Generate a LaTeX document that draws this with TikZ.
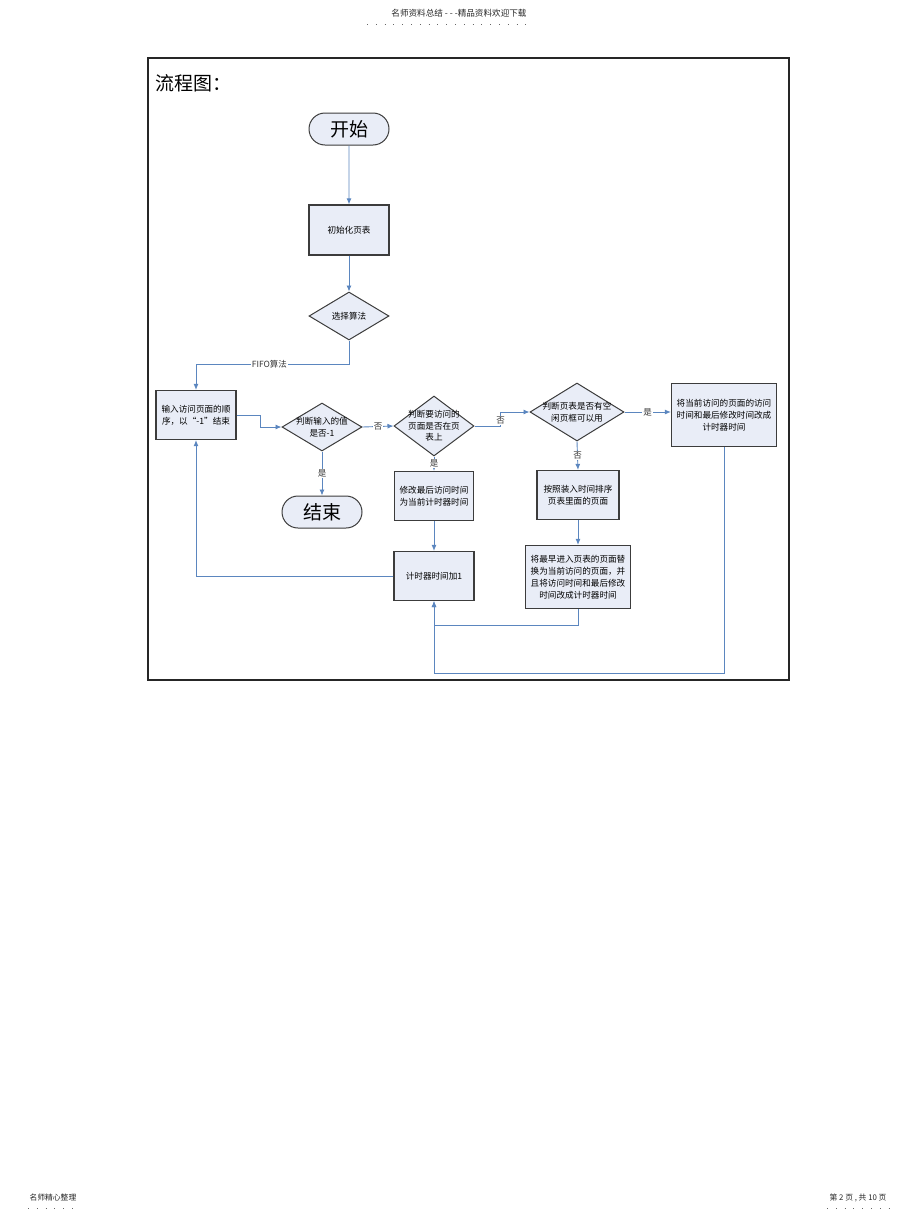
\documentclass[tikz,border=0pt]{standalone}
\usepackage{fontspec}
\setmainfont{Noto Sans CJK SC}
\usetikzlibrary{arrows.meta, calc, shapes.geometric, shapes.misc, positioning}
\definecolor{boxfill}{HTML}{E9EDF7}
\definecolor{boxline}{HTML}{3C3C3C}
\definecolor{flowc}{HTML}{5B86BF}
\tikzset{
	state/.style = {rounded rectangle, draw=boxline, fill=boxfill, line width=1pt, minimum width=80pt, minimum height=32pt, inner sep=0pt, font=\fontsize{19}{19}\selectfont},
	proc/.style = {rectangle, draw=boxline, fill=boxfill, line width=1.2pt, align=center, inner sep=0pt, font=\fontsize{8.6}{12}\selectfont},
	dec/.style = {diamond, draw=boxline, fill=boxfill, line width=1pt, inner sep=0pt},
	dectext/.style = {align=center, inner sep=0pt, font=\fontsize{8.6}{11.5}\selectfont},
	flow/.style = {draw=flowc, line width=0.9pt},
	arr/.style = {flow, -{Latex[length=6pt, width=5pt]}},
	el/.style = {fill=white, inner sep=1pt, font=\fontsize{8.5}{8.5}\selectfont, text=black!80},
	pg/.style = {font=\fontsize{7.8}{7.8}\selectfont, text=black!85},
	dots/.style = {dash pattern=on 0.8pt off 8pt, line width=0.8pt, black!60}
}
\begin{document}
\begin{tikzpicture}[x=1pt, y=-1pt]
	\useasboundingbox (0,0) rectangle (920,1221);
	
	% page header and footer
	\node[pg, font=\fontsize{8.6}{8.6}\selectfont] (hdr) at (459,13) {名师资料总结 - - -精品资料欢迎下载};
	\draw[dots] (367,24) -- (527,24);
	\node[pg, anchor=west] (ftl) at (26,1198) {名师精心整理};
	\draw[dots] (28,1208) -- (75,1208);
	\node[pg, anchor=east] (ftr) at (890,1198) {第 2 页 , 共 10 页};
	\draw[dots] (827,1208) -- (890,1208);
	
	% frame
	\draw[line width=1.5pt, black!85] (148,58) rectangle (789,680);
	\node[anchor=west, font=\fontsize{19}{19}\selectfont] (title) at (152,83) {流程图：};
	
	% nodes
	\node[state] (start) at (349,129) {开始};
	\node[proc, minimum width=80pt, minimum height=50pt] (init) at (349,230) {初始化页表};
	\node[dec, minimum width=80pt, minimum height=48pt, label={[dectext]center:{选择算法}}] (algo) at (349,316) {};
	\node[proc, minimum width=80pt, minimum height=49pt] (input) at (196,415) {输入访问页面的顺\\序，以“-1”结束};
	\node[dec, minimum width=80pt, minimum height=48pt, label={[dectext]center:{判断输入的值\\是否-1}}] (isend) at (322,427) {};
	\node[state] (stop) at (322,512) {结束};
	\node[dec, minimum width=80pt, minimum height=60pt, label={[dectext]center:{判断要访问的\\页面是否在页\\表上}}] (inpage) at (434,426) {};
	\node[proc, minimum width=79pt, minimum height=49pt] (update) at (434,496) {修改最后访问时间\\为当前计时器时间};
	\node[proc, minimum width=80pt, minimum height=49pt] (counter) at (434,576) {计时器时间加1};
	\node[dec, minimum width=94pt, minimum height=58pt, label={[dectext]center:{判断页表是否有空\\闲页框可以用}}] (hasfree) at (577,412) {};
	\node[proc, minimum width=105pt, minimum height=63pt] (setfree) at (724,415) {将当前访问的页面的访问\\时间和最后修改时间改成\\计时器时间};
	\node[proc, minimum width=82pt, minimum height=49pt] (sortp) at (578,495) {按照装入时间排序\\页表里面的页面};
	\node[proc, minimum width=105pt, minimum height=63pt] (replace) at (578,577) {将最早进入页表的页面替\\换为当前访问的页面，并\\且将访问时间和最后修改\\时间改成计时器时间};
	
	% Directed edges
	\path[arr] (start) -- (init);
	\path[arr] (init) -- (algo);
	\path[arr] (algo.south) -- ++(0,24) -| node[el, pos=0.26] {FIFO算法} (input.north);
	\path[arr] (input.east) -- ++(24,0) |- (isend.west);
	\path[arr] (isend.south) -- node[el] {是} (stop.north);
	\path[arr] (isend.east) -- node[el] {否} (inpage.west);
	\path[arr] (inpage.south) -- node[el] {是} (update.north);
	\path[arr] (update) -- (counter);
	\path[arr] (counter.west) -| (input.south);
	\path[arr] (inpage.east) -- ++(26,0) |- node[el, pos=0.2] {否} (hasfree.west);
	\path[arr] (hasfree.east) -- node[el] {是} (hasfree.east -| setfree.west);
	\path[arr] (hasfree.south) -- node[el] {否} (sortp.north);
	\path[arr] (sortp) -- (replace);
	\path[arr] (replace.south) -- ++(0,16) -| (counter.south);
	\path[arr] (setfree.south) -- ++(0,226) -| (counter.south);
\end{tikzpicture}
\end{document}
